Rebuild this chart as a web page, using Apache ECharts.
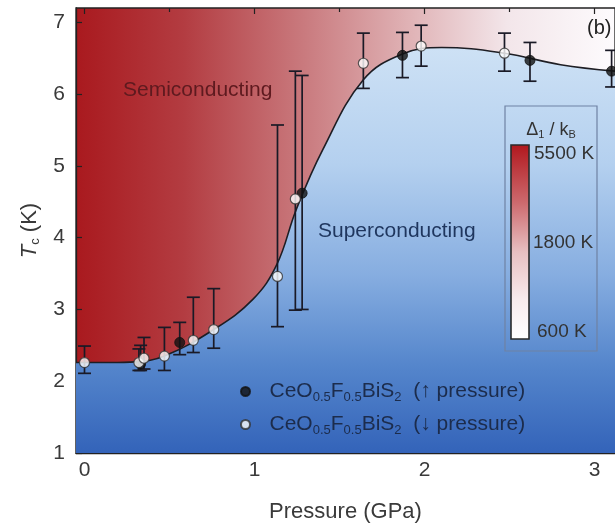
<!DOCTYPE html>
<html>
<head>
<meta charset="utf-8">
<script src="https://cdn.jsdelivr.net/npm/echarts@6/dist/echarts.min.js"></script>
<style>html,body{margin:0;padding:0;background:#fff}#c{width:615px;height:528px}</style>
</head>
<body>
<div id="c"></div>
<script>
// boundary curve (phase boundary)
const curveP  = [-0.05, 0.15, 0.30, 0.47, 0.76, 0.99, 1.13, 1.245, 1.40, 1.64, 1.87, 2.10, 2.47, 2.80, 3.12];
const curveTc = [2.26, 2.26, 2.27, 2.35, 2.72, 3.14, 3.62, 4.39, 5.22, 6.20, 6.56, 6.65, 6.57, 6.41, 6.32];

// increasing pressure (filled)
const upP  = [0.33, 0.56, 1.28, 1.87, 2.62, 3.10];
const upTc = [2.24, 2.54, 4.62, 6.54, 6.47, 6.32];
const upLo = [2.15, 2.37, 3.00, 6.23, 6.18, 6.10];
const upHi = [2.50, 2.82, 6.26, 6.86, 6.72, 6.61];

// decreasing pressure (open)
const downP  = [0.00, 0.32, 0.35, 0.47, 0.64, 0.76, 1.135, 1.24, 1.64, 1.98, 2.47];
const downTc = [2.26, 2.26, 2.32, 2.35, 2.57, 2.72, 3.46, 4.54, 6.43, 6.67, 6.57];
const downLo = [2.11, 2.15, 2.17, 2.15, 2.40, 2.46, 2.76, 2.99, 6.08, 6.39, 6.32];
const downHi = [2.49, 2.45, 2.61, 2.75, 3.17, 3.29, 5.57, 6.32, 6.85, 6.96, 6.85];

const xMajor = [0, 1, 2, 3];
const xMinor = [0.5, 1.5, 2.5];
const yMajor = [1, 2, 3, 4, 5, 6, 7];
const colorbarLabels = ['5500 K', '1800 K', '600 K'];

const FONT = '"Liberation Sans", Arial, Helvetica, sans-serif';
const chart = echarts.init(document.getElementById('c'));

const curveData = curveP.map((p, i) => [p, curveTc[i]]);
const upData = upP.map((p, i) => [p, upTc[i]]);
const downData = downP.map((p, i) => [p, downTc[i]]);
const errData = upP.map((p, i) => [p, upLo[i], upHi[i]])
  .concat(downP.map((p, i) => [p, downLo[i], downHi[i]]));

const redGrad = new echarts.graphic.LinearGradient(0, 0, 1, 0, [
  {offset: 0, color: '#a9191e'},
  {offset: 0.2, color: '#b33c41'},
  {offset: 0.42, color: '#c9797d'},
  {offset: 0.62, color: '#e0b3b6'},
  {offset: 0.8, color: '#f3e6ea'},
  {offset: 1, color: '#fdfbfd'}
]);
const blueGrad = new echarts.graphic.LinearGradient(0, 8, 0, 454, [
  {offset: 0, color: '#d6e7f7'},
  {offset: 0.35, color: '#b4d0ef'},
  {offset: 0.6, color: '#86ade0'},
  {offset: 0.8, color: '#5586cc'},
  {offset: 1, color: '#3363b9'}
], true);
const cbGrad = new echarts.graphic.LinearGradient(0, 0, 0, 1, [
  {offset: 0, color: '#b1171d'},
  {offset: 0.3, color: '#cd6a6e'},
  {offset: 0.55, color: '#e7bfc1'},
  {offset: 0.8, color: '#f8ecee'},
  {offset: 1, color: '#ffffff'}
]);

const legendRich = {
  m: {fontSize: 21, color: '#1c2c4c', fontFamily: FONT},
  s: {fontSize: 13, color: '#1c2c4c', fontFamily: FONT, padding: [12, 0, 0, 0]}
};

const hiddenX = (pos, vals, len) => ({
  type: 'value', position: pos, min: -0.05, max: 3.12,
  axisLine: {show: false}, splitLine: {show: false},
  axisLabel: {show: false},
  axisTick: {show: true, inside: true, length: len, customValues: vals, lineStyle: {color: '#222', width: 1.2}}
});

chart.setOption({
  animation: false,
  grid: {left: 76, top: 8, right: -2, bottom: 74, show: true, backgroundColor: redGrad, borderColor: '#222', borderWidth: 1.3},
  xAxis: [
    {
      type: 'value', min: -0.05, max: 3.12, position: 'bottom',
      name: 'Pressure (GPa)', nameLocation: 'middle', nameGap: 48,
      nameTextStyle: {fontSize: 22, color: '#3a3a3a', fontFamily: FONT},
      axisLine: {show: true, onZero: false, lineStyle: {color: '#222', width: 1.3}},
      splitLine: {show: false},
      axisTick: {show: true, inside: true, length: 6, customValues: xMajor, lineStyle: {color: '#222', width: 1.2}},
      axisLabel: {customValues: xMajor, fontSize: 21, color: '#3a3a3a', margin: 7, fontFamily: FONT}
    },
    hiddenX('bottom', xMinor, 4),
    hiddenX('top', xMajor, 6),
    hiddenX('top', xMinor, 4)
  ],
  yAxis: {
    type: 'value', min: 1, max: 7.2,
    name: '{it|T}{s|c} (K)', nameLocation: 'middle', nameGap: 33,
    nameTextStyle: {fontSize: 22, color: '#3a3a3a', fontFamily: FONT,
      rich: {it: {fontSize: 22, fontStyle: 'italic', color: '#3a3a3a', fontFamily: FONT},
             s: {fontSize: 13, color: '#3a3a3a', fontFamily: FONT, padding: [12, 0, 0, 0]}}},
    axisLine: {show: true, onZero: false, lineStyle: {color: '#222', width: 1.3}},
    splitLine: {show: false},
    axisTick: {show: true, inside: true, length: 6, customValues: yMajor, lineStyle: {color: '#222', width: 1.2}},
    axisLabel: {customValues: yMajor, fontSize: 21, color: '#3a3a3a', margin: 11, fontFamily: FONT}
  },
  legend: {
    orient: 'vertical', left: 235, top: 376, itemGap: 10,
    itemWidth: 38, itemHeight: 9,
    data: ['up', 'down'],
    formatter: n => n === 'up'
      ? '{m|CeO}{s|0.5}{m|F}{s|0.5}{m|BiS}{s|2}{m|  (↑ pressure)}'
      : '{m|CeO}{s|0.5}{m|F}{s|0.5}{m|BiS}{s|2}{m|  (↓ pressure)}',
    textStyle: {fontSize: 21, color: '#1c2c4c', fontFamily: FONT, rich: legendRich}
  },
  series: [
    {
      type: 'line', name: 'boundary', data: curveData, smooth: 0.4,
      showSymbol: false, symbol: 'none', z: 1,
      lineStyle: {color: '#1e1e24', width: 1.6},
      areaStyle: {color: blueGrad, opacity: 1, origin: 'start'}
    },
    {
      type: 'custom', name: 'err', data: errData, z: 3,
      encode: {x: 0, y: [1, 2]},
      renderItem: (params, api) => {
        const x = api.value(0);
        const lo = api.coord([x, api.value(1)]);
        const hi = api.coord([x, api.value(2)]);
        const w = 6.5;
        const st = {stroke: '#1a1a26', lineWidth: 1.7};
        return {type: 'group', children: [
          {type: 'line', shape: {x1: lo[0], y1: lo[1], x2: hi[0], y2: hi[1]}, style: st},
          {type: 'line', shape: {x1: lo[0] - w, y1: lo[1], x2: lo[0] + w, y2: lo[1]}, style: st},
          {type: 'line', shape: {x1: hi[0] - w, y1: hi[1], x2: hi[0] + w, y2: hi[1]}, style: st}
        ]};
      }
    },
    {
      type: 'scatter', name: 'up', data: upData, symbol: 'circle', symbolSize: 10, z: 5,
      itemStyle: {color: '#111111', borderColor: '#111111', borderWidth: 1}
    },
    {
      type: 'scatter', name: 'down', data: downData, symbol: 'circle', symbolSize: 10, z: 5,
      itemStyle: {color: '#ffffff', borderColor: '#333333', borderWidth: 1.2}
    }
  ],
  graphic: [
    {type: 'text', left: 123, top: 80, z: 10, style: {text: 'Semiconducting', fontSize: 21, fill: '#5e1a1f', fontFamily: FONT}},
    {type: 'text', left: 318, top: 221, z: 10, style: {text: 'Superconducting', fontSize: 21, fill: '#1f365e', fontFamily: FONT}},
    {type: 'text', left: 587, top: 18, z: 10, style: {text: '(b)', fontSize: 20, fill: '#222', fontFamily: FONT}},
    {type: 'rect', z: 10, shape: {x: 505, y: 106, width: 92, height: 245}, style: {fill: 'none', stroke: '#6f82a3', lineWidth: 1.2}},
    {type: 'rect', z: 10, shape: {x: 511, y: 145, width: 18, height: 194}, style: {fill: cbGrad, stroke: '#2a2a2a', lineWidth: 1.6}},
    {type: 'text', z: 10, x: 551, y: 130, style: {
      text: '{m|Δ}{s|1}{m| / k}{s|B}', align: 'center', verticalAlign: 'middle',
      rich: {m: {fontSize: 18, fill: '#333', fontFamily: FONT}, s: {fontSize: 11, fill: '#333', fontFamily: FONT, padding: [10, 0, 0, 0]}}}},
    {type: 'text', z: 10, x: 534, y: 154, style: {text: colorbarLabels[0], fontSize: 19, fill: '#333', fontFamily: FONT, verticalAlign: 'middle'}},
    {type: 'text', z: 10, x: 533, y: 243, style: {text: colorbarLabels[1], fontSize: 19, fill: '#333', fontFamily: FONT, verticalAlign: 'middle'}},
    {type: 'text', z: 10, x: 537, y: 332, style: {text: colorbarLabels[2], fontSize: 19, fill: '#333', fontFamily: FONT, verticalAlign: 'middle'}}
  ]
});
</script>
</body>
</html>
